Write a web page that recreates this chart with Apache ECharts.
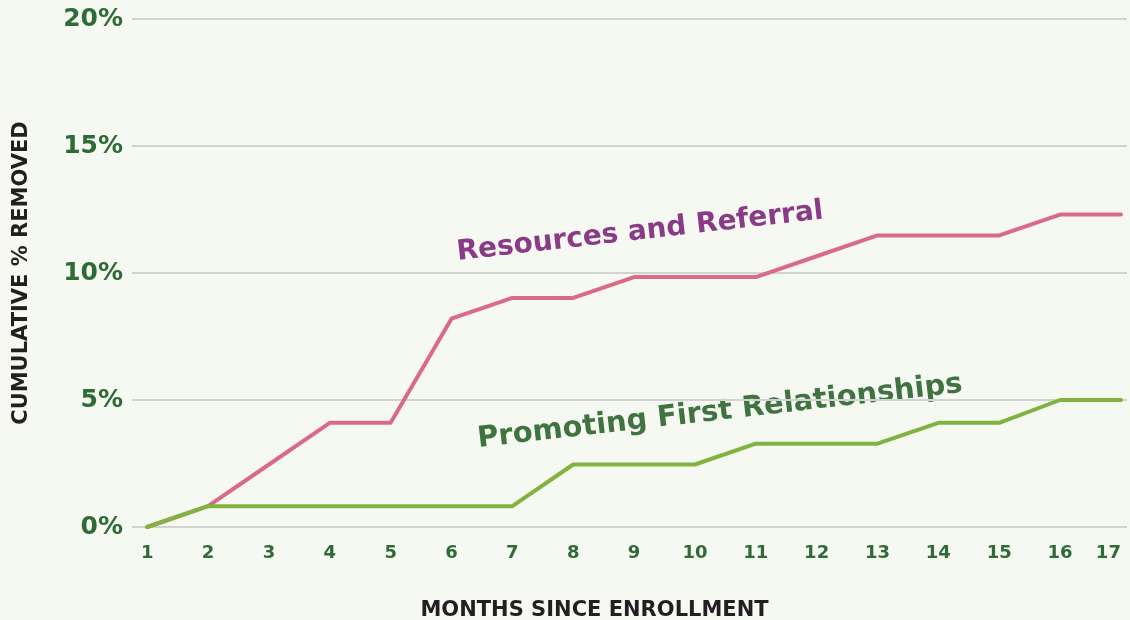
<!DOCTYPE html>
<html>
<head>
<meta charset="utf-8">
<script src="https://cdn.jsdelivr.net/npm/echarts@6/dist/echarts.min.js"></script>
<style>
    html, body { margin: 0; padding: 0; background: #f6f8f2; }
    #chart { width: 1130px; height: 620px; }
</style>
</head>
<body>
<div id="chart"></div>
<script>
    // months since enrollment
    const months = [1, 2, 3, 4, 5, 6, 7, 8, 9, 10, 11, 12, 13, 14, 15, 16, 17]
    // cumulative % removed
    const resourcesReferral = [0, 0.82, 2.46, 4.1, 4.1, 8.2, 9.02, 9.02, 9.84, 9.84, 9.84, 10.66, 11.48, 11.48, 11.48, 12.3, 12.3]
    const promotingFirst = [0, 0.82, 0.82, 0.82, 0.82, 0.82, 0.82, 2.46, 2.46, 2.46, 3.28, 3.28, 3.28, 4.1, 4.1, 5.0, 5.0]
    const yTicks = [0, 5, 10, 15, 20]

    const green = '#2f6b36'
    const chart = echarts.init(document.getElementById('chart'))

    chart.setOption({
        backgroundColor: '#f6f8f2',
        animation: false,
        grid: { left: 132, right: 3, top: 19, bottom: 93, containLabel: false, outerBoundsMode: 'none' },
        xAxis: {
            type: 'value',
            min: 0.75,
            max: 17.1,
            axisLine: { show: false },
            axisTick: { show: false },
            splitLine: { show: false },
            axisLabel: {
                customValues: months,
                color: green,
                fontFamily: 'DejaVu Sans',
                fontWeight: 'bold',
                fontSize: 18,
                margin: 17,
                alignMaxLabel: 'right'
            },
            name: 'MONTHS SINCE ENROLLMENT',
            nameLocation: 'middle',
            nameGap: 73,
            nameTextStyle: {
                color: '#231f20',
                fontFamily: 'DejaVu Sans',
                fontWeight: 'bold',
                fontSize: 21,
                padding: [0, 70, 0, 0]
            }
        },
        yAxis: {
            type: 'value',
            min: 0,
            max: 20,
            interval: 5,
            axisLine: { show: false },
            axisTick: { show: false },
            splitLine: { lineStyle: { color: '#d2d2d2', width: 2 } },
            axisLabel: {
                customValues: yTicks,
                formatter: '{value}%',
                color: green,
                fontFamily: 'DejaVu Sans',
                fontWeight: 'bold',
                fontSize: 25,
                margin: 9
            },
            name: 'CUMULATIVE % REMOVED',
            nameLocation: 'middle',
            nameGap: 100,
            nameTextStyle: {
                color: '#231f20',
                fontFamily: 'DejaVu Sans',
                fontWeight: 'bold',
                fontSize: 21
            }
        },
        series: [{
            name: 'Resources and Referral',
            type: 'line',
            data: months.map((m, i) => [m, resourcesReferral[i]]),
            symbol: 'none',
            lineStyle: { color: '#d96b85', width: 4, cap: 'round', join: 'round' },
            z: 2
        }, {
            name: 'Promoting First Relationships',
            type: 'line',
            data: months.map((m, i) => [m, promotingFirst[i]]),
            symbol: 'none',
            lineStyle: { color: '#82b23f', width: 4, cap: 'round', join: 'round' },
            z: 3
        }],
        graphic: [{
            type: 'text',
            x: 640,
            y: 232,
            rotation: 6.5 * Math.PI / 180,
            style: {
                text: 'Resources and Referral',
                fill: '#8a3b87',
                font: 'bold 28px "DejaVu Sans", sans-serif',
                align: 'center',
                verticalAlign: 'middle'
            }
        }, {
            type: 'text',
            x: 720,
            y: 412,
            rotation: 6.5 * Math.PI / 180,
            style: {
                text: 'Promoting First Relationships',
                fill: '#3f7440',
                font: 'bold 29px "DejaVu Sans", sans-serif',
                align: 'center',
                verticalAlign: 'middle'
            }
        }]
    })
</script>
</body>
</html>
